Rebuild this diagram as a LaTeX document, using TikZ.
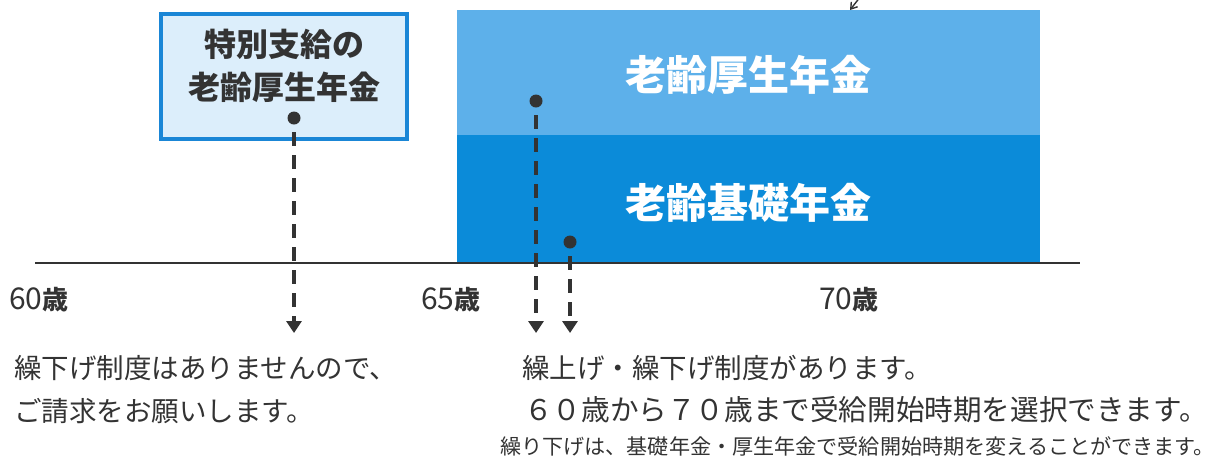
\documentclass[tikz,border=0pt]{standalone}
\usepackage{fontspec}
\setmainfont{Noto Sans CJK JP}
\usetikzlibrary{arrows.meta}
\definecolor{boxfill}{HTML}{DCEEFB}
\definecolor{boxline}{HTML}{1A86D6}
\definecolor{upperblue}{HTML}{5DB0EA}
\definecolor{lowerblue}{HTML}{0B8BD9}
\definecolor{ink}{HTML}{333333}
\begin{document}
\begin{tikzpicture}[x=1pt,y=-1pt,
  band/.style={draw=none,inner sep=0pt,anchor=north west,minimum width=583pt},
  bandtext/.style={text=white,font=\fontsize{41pt}{41pt}\selectfont\bfseries},
  dotmark/.style={circle,fill=ink,inner sep=0pt,minimum size=13pt},
  dashline/.style={draw=ink,line width=4pt,dash pattern=on 14pt off 9pt,-{Triangle[width=15pt,length=12pt]}},
  axisline/.style={draw=ink,line width=2.5pt},
  agelabel/.style={anchor=west,text=ink,inner sep=0pt,font=\fontsize{30pt}{30pt}\selectfont},
  note/.style={anchor=west,text=ink,inner sep=0pt,font=\fontsize{27.5pt}{27.5pt}\selectfont}
]
\useasboundingbox (0,0) rectangle (1214,459);
% large rectangle
\node[band,fill=upperblue,minimum height=125pt] (kosei) at (457,10) {};
\node[band,fill=lowerblue,minimum height=127pt] (kiso) at (457,135) {};
\node[bandtext] (koseitext) at (748,75) {老齢厚生年金};
\node[bandtext] (kisotext) at (748,203) {老齢基礎年金};
% small top arrow (partly outside)
\coordinate (t0) at (864,-8);
\coordinate (t1) at (850,10);
\draw[ink,line width=1.4pt,-{Straight Barb[length=6pt,width=8pt]}] (t0) -- (t1);
% special box
\node[draw=boxline,line width=3.5pt,fill=boxfill,anchor=north west,inner sep=0pt,minimum width=246pt,minimum height=125pt] (tokubetsu) at (159,12) {};
\node[text=ink,align=center,font=\fontsize{32pt}{43pt}\selectfont\bfseries] (tokutext) at (284,66) {特別支給の\\老齢厚生年金};
% axis
\coordinate (ax0) at (35,263);
\coordinate (ax1) at (1080,263);
\draw[axisline] (ax0) -- (ax1);
% age labels
\node[agelabel] (a60) at (9,300) {60\textbf{\fontsize{26pt}{26pt}\selectfont 歳}};
\node[agelabel] (a65) at (421,300) {65\textbf{\fontsize{26pt}{26pt}\selectfont 歳}};
\node[agelabel] (a70) at (819,300) {70\textbf{\fontsize{26pt}{26pt}\selectfont 歳}};
% dots and dashed arrows
\node[dotmark] (d1) at (294,118) {};
\node[dotmark] (d2) at (536,101) {};
\node[dotmark] (d3) at (570,242) {};
\coordinate (e1) at (294,333);
\coordinate (e2) at (536,333);
\coordinate (e3) at (570,333);
\draw[dashline,shorten <=14pt] (d1.center) -- (e1);
\draw[dashline,shorten <=14pt] (d2.center) -- (e2);
\draw[dashline,shorten <=14pt] (d3.center) -- (e3);
% notes
\node[note] (n1) at (14,368) {繰下げ制度はありませんので、};
\node[note] (n2) at (14,411) {ご請求をお願いします。};
\node[note] (n3) at (522,368) {繰上げ・繰下げ制度があります。};
\node[note,font=\fontsize{28.6pt}{28pt}\selectfont] (n4) at (524,410) {６０歳から７０歳まで受給開始時期を選択できます。};
\node[note,font=\fontsize{21.1pt}{21pt}\selectfont] (n5) at (500,446) {繰り下げは、基礎年金・厚生年金で受給開始時期を変えることができます。};
\end{tikzpicture}
\end{document}
